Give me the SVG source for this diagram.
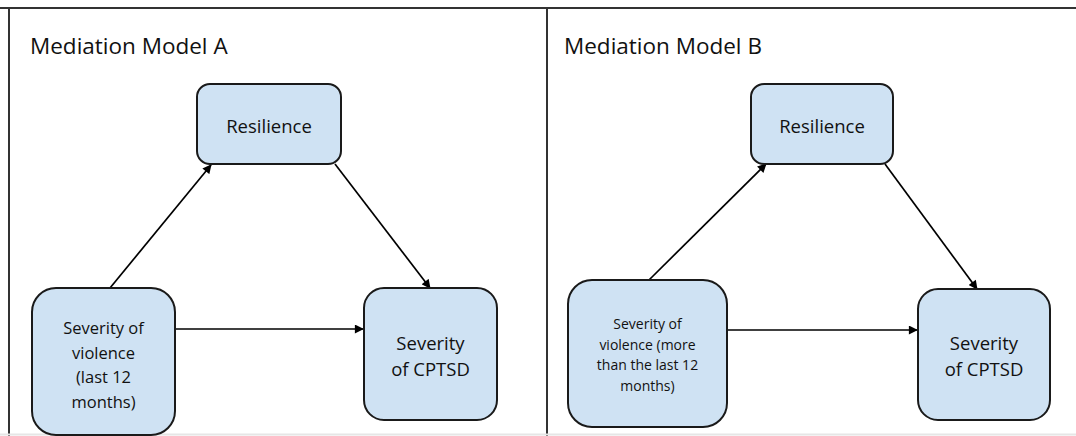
<svg xmlns="http://www.w3.org/2000/svg" width="1076" height="436" viewBox="0 0 1076 436">
<style>
.node{fill:#cfe2f3;stroke:#1a1a1a;stroke-width:2}
.t{font-family:"Open Sans","Liberation Sans",sans-serif;fill:#111;text-anchor:middle}
.title{font-family:"Open Sans","Liberation Sans",sans-serif;fill:#111;font-size:22.5px}
.edge{stroke:#000;stroke-width:1.7;fill:none;marker-end:url(#ah)}
.frame{stroke:#333;stroke-width:2;fill:none}
</style>
<defs>
<marker id="ah" viewBox="0 0 10 10" refX="9" refY="5" markerWidth="10" markerHeight="9" markerUnits="userSpaceOnUse" orient="auto">
<path d="M0,0 L10,5 L0,10 z" fill="#000"/>
</marker>
</defs>
<rect width="1076" height="436" fill="#fff"/>
<g id="frame">
<line class="frame" x1="0" y1="8" x2="1076" y2="8"/>
<line class="frame" x1="9" y1="8" x2="9" y2="436"/>
<line class="frame" x1="547" y1="8" x2="547" y2="436"/>
<line x1="0" y1="434.5" x2="1076" y2="434.5" stroke="#e6e6e6" stroke-width="2"/>
</g>
<text class="title" x="30" y="54">Mediation Model A</text>
<text class="title" x="564" y="54">Mediation Model B</text>
<g id="connectors">
<line class="edge" x1="110" y1="288" x2="211" y2="165"/>
<line class="edge" x1="335" y1="164" x2="430" y2="288"/>
<line class="edge" x1="175" y1="329" x2="363" y2="329"/>
<line class="edge" x1="649" y1="280" x2="766" y2="164"/>
<line class="edge" x1="885" y1="164" x2="977" y2="289"/>
<line class="edge" x1="726" y1="330" x2="917" y2="330"/>
</g>
<g id="a-resilience">
<rect class="node" x="197" y="84" width="144" height="80" rx="13"/>
<text class="t" x="269" y="133" font-size="18.5">Resilience</text>
</g>
<g id="a-violence">
<rect class="node" x="32" y="288" width="143" height="147" rx="24"/>
<text class="t" font-size="16.5"><tspan x="103.5" y="334">Severity of</tspan><tspan x="103.5" y="358.5">violence</tspan><tspan x="103.5" y="383">(last 12</tspan><tspan x="103.5" y="407.5">months)</tspan></text>
</g>
<g id="a-cptsd">
<rect class="node" x="364" y="288" width="133" height="132" rx="20"/>
<text class="t" font-size="18.5"><tspan x="430.5" y="350">Severity</tspan><tspan x="430.5" y="375.5">of CPTSD</tspan></text>
</g>
<g id="b-resilience">
<rect class="node" x="751" y="84" width="142" height="80" rx="13"/>
<text class="t" x="822" y="133" font-size="18.5">Resilience</text>
</g>
<g id="b-violence">
<rect class="node" x="568" y="280" width="159" height="147" rx="24"/>
<text class="t" font-size="14"><tspan x="647.5" y="329">Severity of</tspan><tspan x="647.5" y="349.5">violence (more</tspan><tspan x="647.5" y="370">than the last 12</tspan><tspan x="647.5" y="390.5">months)</tspan></text>
</g>
<g id="b-cptsd">
<rect class="node" x="918" y="289" width="132" height="131" rx="20"/>
<text class="t" font-size="18.5"><tspan x="984" y="350">Severity</tspan><tspan x="984" y="375.5">of CPTSD</tspan></text>
</g>
</svg>
